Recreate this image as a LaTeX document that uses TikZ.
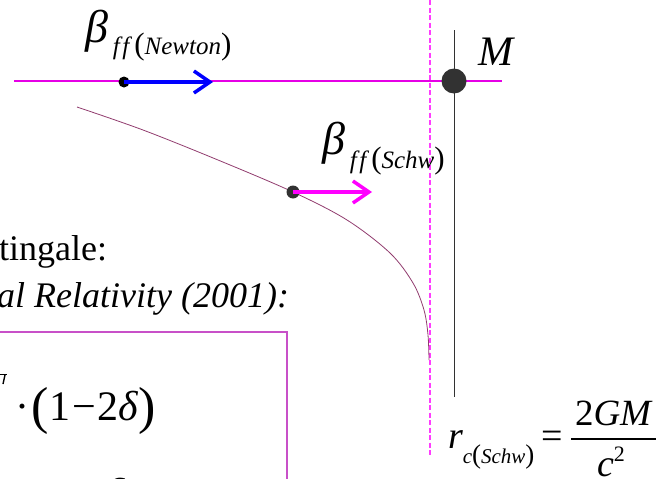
\documentclass[tikz,border=0pt]{standalone}
\usepackage{fontspec}
\setmainfont{Liberation Serif}
\usetikzlibrary{arrows.meta}
\definecolor{magline}{RGB}{230,0,230}
\definecolor{magdash}{RGB}{255,60,255}
\definecolor{arrmag}{RGB}{255,0,255}
\definecolor{arrblue}{RGB}{0,0,255}
\definecolor{curvecol}{RGB}{145,60,110}
\definecolor{boxcol}{RGB}{200,80,200}
\definecolor{dotgray}{RGB}{50,50,50}
\newcommand{\myfs}[1]{\fontsize{#1}{#1}\selectfont}
\begin{document}
\begin{tikzpicture}[x=1pt,y=-1pt,
  txt/.style={inner sep=0pt, outer sep=0pt},
  smalldot/.style={circle, fill=black, inner sep=0pt, minimum size=11pt},
  graydot/.style={circle, fill=dotgray, inner sep=0pt, minimum size=13pt},
  massdot/.style={circle, fill=dotgray, inner sep=0pt, minimum size=25pt},
  velarrow/.style={line width=3.5pt, -{Straight Barb[length=16pt,width=22pt,line width=3.5pt]}}
]
\useasboundingbox (0,0) rectangle (656,479);

% horizontal axis line
\coordinate (hl) at (14,81);
\coordinate (hr) at (502,81);
\draw[magline, line width=1.2pt] (hl) -- (hr);

% dashed vertical (Schwarzschild radius)
\coordinate (dt) at (430,0);
\coordinate (db) at (430,455);
\draw[magdash, line width=1.3pt, dash pattern=on 5pt off 2.5pt] (dt) -- (db);

% vertical black line through M
\coordinate (vt) at (454,30);
\coordinate (vb) at (454,397);
\draw[dotgray, line width=1pt] (vt) -- (vb);

% mass
\node[massdot] (mass) at (454,81) {};
\node[txt, anchor=base west] (mlabel) at (478,65) {\myfs{42}\itshape M};

% trajectory curve
\draw[curvecol, line width=0.8pt] plot[smooth, tension=0.55] coordinates
  {(77,107) (143,130) (218,160) (293,192) (347,220) (390,253) (413,283) (424,310) (428,335) (429,360)};

% Newton particle and arrow
\node[smalldot] (pn) at (124,82) {};
\coordinate (pnend) at (213,82);
\draw[arrblue, velarrow] (pn.center) -- (pnend);
\node[txt, anchor=base west] (bn) at (85,42)
  {\myfs{46}\itshape β\kern5pt\raisebox{-12pt}{\myfs{25}f\kern2.5pt f\kern5pt{\myfs{31}\upshape(}Newton{\myfs{31}\upshape)}}};

% Schwarzschild particle and arrow
\node[graydot] (ps) at (293,192) {};
\coordinate (psend) at (372,192);
\draw[arrmag, velarrow] (ps.center) -- (psend);
\node[txt, anchor=base west] (bs) at (322,154)
  {\myfs{46}\itshape β\kern5pt\raisebox{-14pt}{\myfs{25}f\kern2.5pt f\kern5pt{\myfs{31}\upshape(}Schw{\myfs{31}\upshape)}}};

% text lines
\node[txt, anchor=base east] (t1) at (107,260) {\myfs{36}tingale:};
\node[txt, anchor=base east] (t2) at (289,307) {\myfs{36}\itshape al Relativity (2001):};

% box
\coordinate (bl) at (0,332);
\coordinate (bc) at (287,332);
\coordinate (bb) at (287,482);
\draw[boxcol, line width=1.5pt] (bl) -- (bc) -- (bb);

% fragment at left edge
\draw[black, line width=1.6pt] (0,374.5) -- (7,374.5);
\draw[black, line width=1.4pt] (5,375) -- (3,384);

% formula in box
\node[txt, anchor=base west] (f1) at (16,420)
  {\myfs{42}·\kern2pt\raisebox{-3pt}{\myfs{52}(}1\kern2pt−\kern2pt2{\itshape δ}\raisebox{-3pt}{\myfs{52})}};
\node[txt, anchor=base west] (f2) at (24,507)
  {\myfs{42}1\kern8pt−\kern8pt2{\itshape δ}};

% r_c(Schw) = 2GM / c^2
\node[txt, anchor=base west] (rc) at (448,448)
  {\myfs{38}\itshape r\raisebox{-15pt}{\myfs{21}c{\myfs{27}\upshape(}Schw{\myfs{27}\upshape)}}};
\node[txt] (eq) at (552,440) {\myfs{38}=};
\coordinate (fbl) at (571,439);
\coordinate (fbr) at (660,439);
\draw[black, line width=1.5pt] (fbl) -- (fbr);
\node[txt, anchor=base west] (num) at (575,425) {\myfs{37}2{\itshape GM}};
\node[txt, anchor=base west] (den) at (597,476) {\myfs{38}\itshape c\raisebox{15pt}{\myfs{22}\upshape 2}};
\end{tikzpicture}
\end{document}
